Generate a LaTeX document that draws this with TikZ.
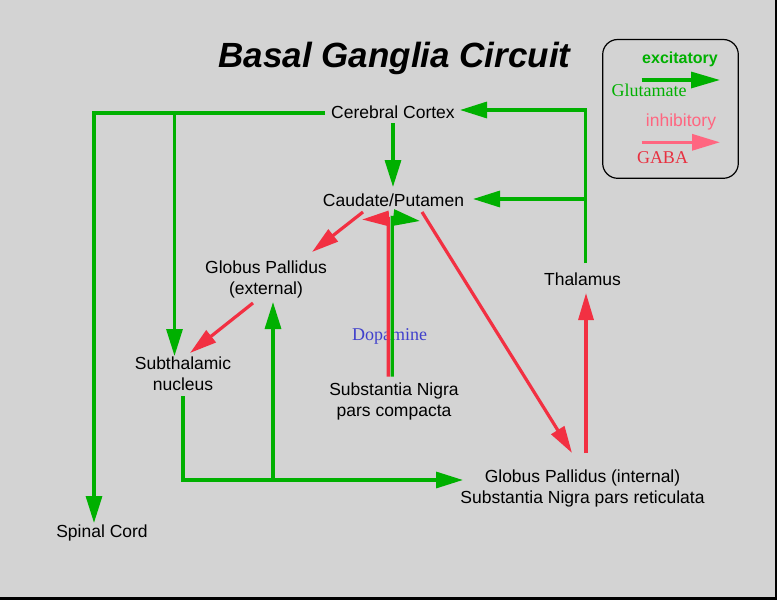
\documentclass[tikz,border=0pt]{standalone}
\usepackage{fontspec}
\setmainfont{Liberation Sans}
\newfontfamily\serifface{Liberation Serif}
\usetikzlibrary{arrows.meta}
\definecolor{bg}{RGB}{211,211,211}
\definecolor{gr}{RGB}{0,176,0}
\definecolor{rd}{RGB}{242,48,66}
\definecolor{pk}{RGB}{255,102,128}
\definecolor{gabared}{RGB}{232,48,64}
\definecolor{dopblue}{RGB}{64,64,204}
\tikzset{
  exc/.style={draw=gr, line width=3.2pt, -{Triangle[length=27pt,width=16pt]}},
  inh/.style={draw=rd, line width=3.2pt, -{Triangle[length=27pt,width=15pt]}},
  lbl/.style={font=\fontsize{17.5}{21}\selectfont, align=center, inner sep=0pt, anchor=base},
  serifnote/.style={font=\serifface\fontsize{18}{21}\selectfont, inner sep=0pt, anchor=base}
}
\begin{document}
\begin{tikzpicture}[x=1pt,y=-1pt]
\useasboundingbox (0,0) rectangle (777,600);
\fill[bg] (0,0) rectangle (777,600);
\fill[black] (0,596.5) rectangle (777,600);
\fill[black] (775,0) rectangle (777,600);

% title
\node[inner sep=0pt, anchor=base, font=\fontsize{35}{40}\selectfont\bfseries\itshape] (title) at (394.5,67) {Basal Ganglia Circuit};

% legend
\draw[black, line width=1.2pt, rounded corners=15pt] (602.7,39.5) rectangle (738.3,178.3);
\node[lbl, text=gr, font=\fontsize{16}{20}\selectfont\bfseries] (exctext) at (680,63.5) {excitatory};
\node[serifnote, text=gr] (glutext) at (649,96.5) {Glutamate};
\node[lbl, text=pk] (inhtext) at (681,126) {inhibitory};
\node[serifnote, text=gabared] (gabatext) at (662.5,163) {GABA};
\coordinate (lg1) at (641.7,80);
\coordinate (lg2) at (720,80);
\coordinate (lr1) at (641.7,142.3);
\coordinate (lr2) at (720,142.3);
\draw[exc, -{Triangle[length=29pt,width=16pt]}] (lg1) -- (lg2);
\draw[draw=pk, line width=3.2pt, -{Triangle[length=28pt,width=16pt]}] (lr1) -- (lr2);

% nodes (base anchor = baseline of the last line)
\node[lbl] (cortex) at (393,118) {Cerebral Cortex};
\node[lbl] (caudate) at (393.5,206) {Caudate/Putamen};
\node[lbl] (gpe) at (266,294) {Globus Pallidus\\(external)};
\node[lbl] (thal) at (582.5,285) {Thalamus};
\node[lbl] (stn) at (183,390) {Subthalamic\\nucleus};
\node[lbl] (snc) at (394,416) {Substantia Nigra\\pars compacta};
\node[lbl] (gpi) at (582.5,503) {Globus Pallidus (internal)\\Substantia Nigra pars reticulata};
\node[lbl] (spinal) at (102,537) {Spinal Cord};
\node[serifnote, text=dopblue] (dopa) at (389.5,340) {Dopamine};

% connector points
\coordinate (ctxL) at (325,113);
\coordinate (ctxC1) at (94,113);
\coordinate (spinalTop) at (94,523);
\coordinate (ctxC2) at (174.5,113);
\coordinate (stnTop) at (174.5,356);
\coordinate (ctxBot) at (393,123);
\coordinate (caudTop) at (393,187);
\coordinate (thalTop) at (585.5,263);
\coordinate (thalC1) at (585.5,110);
\coordinate (ctxR) at (460,110);
\coordinate (thalC2) at (585.5,199);
\coordinate (caudR) at (473,199);
\coordinate (stnBot) at (183,396);
\coordinate (stnC1) at (183,480);
\coordinate (gpiL) at (463,480);
\coordinate (gpeC) at (273,480);
\coordinate (gpeBot) at (273,302);
\coordinate (sncR1) at (388.3,376.5);
\coordinate (sncR2) at (388.3,218.5);
\coordinate (sncR3) at (362,219.5);
\coordinate (sncG1) at (392.3,376.5);
\coordinate (sncG2) at (392.3,217.5);
\coordinate (sncG3) at (420,221);
\coordinate (caudBL) at (363,212);
\coordinate (gpeTop) at (312,252);
\coordinate (gpeBL) at (253,303);
\coordinate (stnTR) at (190,353);
\coordinate (caudBR) at (422,212);
\coordinate (gpiTop) at (572,453);
\coordinate (gpiTR) at (586,453);
\coordinate (thalBot) at (586,293);

% excitatory connectors
\draw[exc] (ctxL) -- (ctxC1) -- (spinalTop);
\draw[exc] (ctxC2) -- (stnTop);
\draw[exc] (ctxBot) -- (caudTop);
\draw[exc] (thalTop) -- (thalC1) -- (ctxR);
\draw[exc] (thalC2) -- (caudR);
\draw[exc] (stnBot) -- (stnC1) -- (gpiL);
\draw[exc] (gpeC) -- (gpeBot);
\draw[exc, line join=miter] (sncG1) -- (sncG2) -- (sncG3);

% inhibitory connectors
\draw[inh, line join=miter] (sncR1) -- (sncR2) -- (sncR3);
\draw[inh] (caudBL) -- (gpeTop);
\draw[inh] (gpeBL) -- (stnTR);
\draw[inh] (caudBR) -- (gpiTop);
\draw[inh] (gpiTR) -- (thalBot);
\end{tikzpicture}
\end{document}
